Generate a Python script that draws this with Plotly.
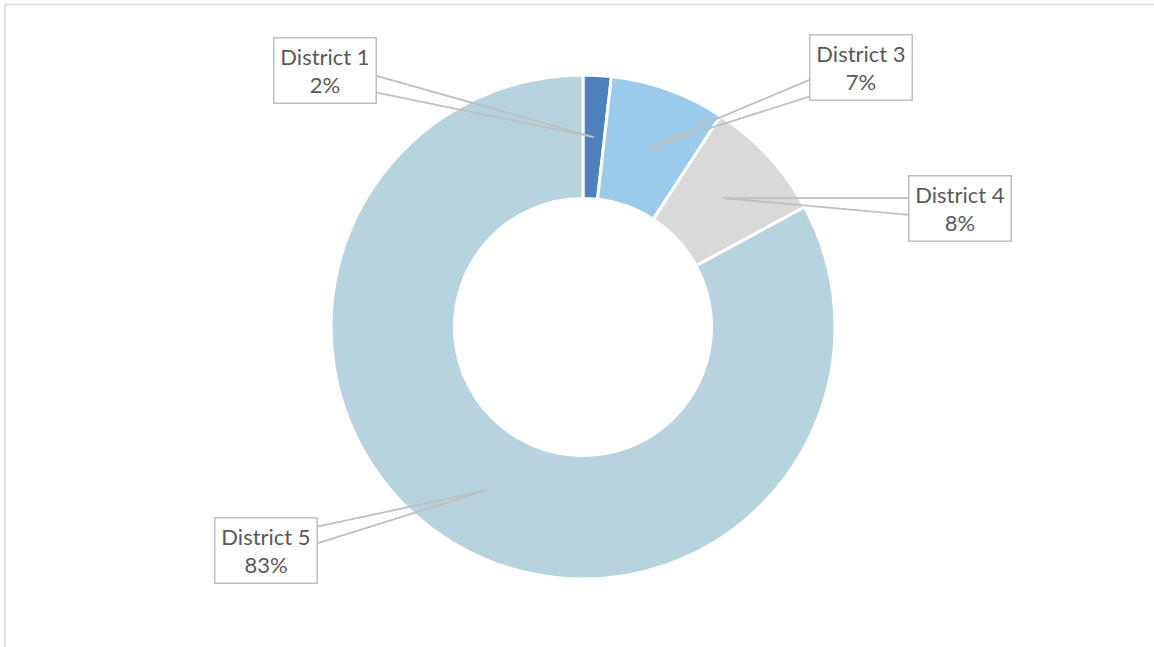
import math
import plotly.graph_objects as go

# data
districts = ['District 1', 'District 3', 'District 4', 'District 5']
shares = [1.8, 7.4, 7.9, 82.9]
colors = ['#4F81BD', '#9BCBEB', '#D9D9D9', '#B7D4DE']

W, H = 1154, 647

# donut geometry (pixels)
CX, CY = 583, 327
R_OUT = 252
HOLE = 0.51

# callout box centres (pixels), one per district
box_pos = [(325, 70.5), (860.5, 67.5), (960, 209), (266, 550)]
BOX_W, BOX_H = 104, 67


def px(x, y):
    return x / W, 1 - y / H


fig = go.Figure(go.Pie(
    labels=districts,
    values=shares,
    hole=HOLE,
    sort=False,
    direction='clockwise',
    rotation=0,
    marker=dict(colors=colors, line=dict(color='white', width=3)),
    textinfo='none',
    hoverinfo='label+percent',
    domain=dict(x=[(CX - R_OUT) / W, (CX + R_OUT) / W],
                y=[(H - CY - R_OUT) / H, (H - CY + R_OUT) / H]),
))

total = sum(shares)
r_mid = R_OUT * (1 + HOLE) / 2
shapes = []
annotations = []
cum = 0
for name, v, (bx, by) in zip(districts, shares, box_pos):
    mid = (cum + v / 2) / total * 2 * math.pi
    cum += v
    tx = CX + r_mid * math.sin(mid)
    ty = CY - r_mid * math.cos(mid)

    # base of the wedge on the box side facing the tip
    side = BOX_W / 2 if tx > bx else -BOX_W / 2
    ex = bx + side
    ey = by + (ty - by) * side / (tx - bx)
    ey = max(by - BOX_H / 2 + 10, min(by + BOX_H / 2 - 10, ey))
    inset = -4 if side > 0 else 4
    x0, y0a = px(ex + inset, ey - 8.5)
    _, y0b = px(ex + inset, ey + 8.5)
    tpx, tpy = px(tx, ty)
    shapes.append(dict(
        type='path', xref='paper', yref='paper',
        path=f'M {x0},{y0a} L {tpx},{tpy} L {x0},{y0b}',
        line=dict(color='#BFBFBF', width=1.8),
    ))

    pct = round(v / total * 100)
    ax_, ay_ = px(bx, by)
    annotations.append(dict(
        x=ax_, y=ay_, xref='paper', yref='paper',
        xanchor='center', yanchor='middle',
        text=f'{name}<br>{pct}%',
        showarrow=False,
        width=BOX_W - 7, height=BOX_H - 7, borderpad=2,
        bgcolor='white', bordercolor='#BFBFBF', borderwidth=1.5,
        font=dict(family='Lato', size=22, color='#595959'),
    ))

# chart-area border (top and left are visible)
bx0, by0 = px(5, H)
bx1, by1 = px(5, 4.5)
bx2, _ = px(W + 2, 4.5)
shapes.append(dict(
    type='path', xref='paper', yref='paper',
    path=f'M {bx0},{by0} L {bx1},{by1} L {bx2},{by1}',
    line=dict(color='#D9D9D9', width=1.5),
))

fig.update_layout(
    width=W, height=H,
    margin=dict(l=0, r=0, t=0, b=0),
    paper_bgcolor='white',
    showlegend=False,
    shapes=shapes,
    annotations=annotations,
)

# drop the default page margin so the figure sits at the window corner
fig.write_html('out.html', config={'displayModeBar': False},
               post_script="document.body.style.margin='0';")
